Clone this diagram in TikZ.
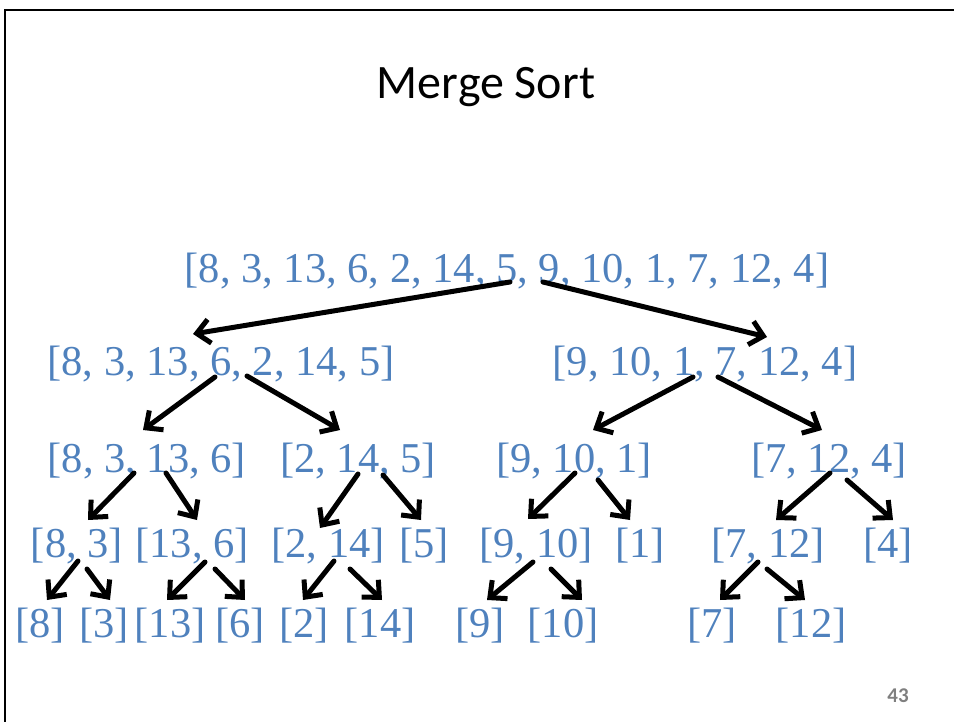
\documentclass[tikz,border=0pt]{standalone}
\usepackage{fontspec}
\setmainfont{Liberation Serif}
\newfontfamily\calibri{Carlito}
\usetikzlibrary{arrows.meta,calc}
\definecolor{listblue}{HTML}{4F81BD}
\definecolor{pagegray}{HTML}{7F7F7F}
\begin{document}
\begin{tikzpicture}[x=1pt, y=-1pt,
    lst/.style={text=listblue, anchor=base, inner sep=0pt, font=\fontsize{42.5}{50}\selectfont},
    split/.style={-{Straight Barb[length=13pt,width=24pt]}, line width=5pt, line cap=round, line join=round}]
\useasboundingbox (0,0) rectangle (954,722);
% frame and title
\draw[line width=2pt] (5,722) -- (5,10) -- (954,10);
\node[anchor=base, inner sep=0pt, font=\calibri\fontsize{48}{56}\selectfont] (title) at (486,99) {Merge Sort};
\node[anchor=base, inner sep=0pt, text=pagegray, font=\calibri\bfseries\fontsize{21}{24}\selectfont] (page) at (898,702) {43};
% nodes
\node[lst] (n0)     at (507,283) {[8, 3, 13, 6, 2, 14, 5, 9, 10, 1, 7, 12, 4]};
    \node[lst] (a)  at (221,375) {[8, 3, 13, 6, 2, 14, 5]};
    \node[lst] (b)  at (705,375) {[9, 10, 1, 7, 12, 4]};
        \node[lst] (aa) at (147,472) {[8, 3, 13, 6]};
        \node[lst] (ab) at (358,472) {[2, 14, 5]};
        \node[lst] (ba) at (574,472) {[9, 10, 1]};
        \node[lst] (bb) at (829,472) {[7, 12, 4]};
            \node[lst] (aaa) at (77,557)  {[8, 3]};
            \node[lst] (aab) at (192,557) {[13, 6]};
            \node[lst] (aba) at (328,557) {[2, 14]};
            \node[lst] (abb) at (424,557) {[5]};
            \node[lst] (baa) at (536,557) {[9, 10]};
            \node[lst] (bab) at (640,557) {[1]};
            \node[lst] (bba) at (768,557) {[7, 12]};
            \node[lst] (bbb) at (888,557) {[4]};
                \node[lst] (l8)  at (40,637)  {[8]};
                \node[lst] (l3)  at (104,637) {[3]};
                \node[lst] (l13) at (170,637) {[13]};
                \node[lst] (l6)  at (240,637) {[6]};
                \node[lst] (l2)  at (304,637) {[2]};
                \node[lst] (l14) at (380,637) {[14]};
                \node[lst] (l9)  at (480,637) {[9]};
                \node[lst] (l10) at (563,637) {[10]};
                \node[lst] (l7)  at (712,637) {[7]};
                \node[lst] (l12) at (811,637) {[12]};
% arrows
\draw[split] ($(n0.base)+(3,-1)$) -- ($(a.base)+(-28,-41)$);
\draw[split] ($(n0.base)+(36,-1)$) -- ($(b.base)+(62,-38)$);

    \draw[split] ($(a.base)+(-6,2)$) -- ($(aa.base)+(-4,-42)$);
    \draw[split] ($(a.base)+(26,1)$) -- ($(ab.base)+(-18,-42)$);
    \draw[split] ($(b.base)+(-12,2)$) -- ($(ba.base)+(19,-42)$);
    \draw[split] ($(b.base)+(13,2)$) -- ($(bb.base)+(-7,-42)$);

        \draw[split] ($(aa.base)+(-13,1)$) -- ($(aaa.base)+(11,-37)$);
        \draw[split] ($(aa.base)+(19,1)$) -- ($(aab.base)+(5,-37)$);
        \draw[split] ($(ab.base)+(0,2)$) -- ($(aba.base)+(-8,-29)$);
        \draw[split] ($(ab.base)+(25,3)$) -- ($(abb.base)+(-3,-37)$);
        \draw[split] ($(ba.base)+(1,1)$) -- ($(baa.base)+(-8,-38)$);
        \draw[split] ($(ba.base)+(24,8)$) -- ($(bab.base)+(-10,-37)$);
        \draw[split] ($(bb.base)+(1,1)$) -- ($(bba.base)+(8,-37)$);
        \draw[split] ($(bb.base)+(18,8)$) -- ($(bbb.base)+(5,-37)$);

            \draw[split] ($(aaa.base)+(1,4)$) -- ($(l8.base)+(7,-37)$);
            \draw[split] ($(aaa.base)+(10,12)$) -- ($(l3.base)+(6,-37)$);
            \draw[split] ($(aab.base)+(13,5)$) -- ($(l13.base)+(-3,-37)$);
            \draw[split] ($(aab.base)+(23,12)$) -- ($(l6.base)+(5,-37)$);
            \draw[split] ($(aba.base)+(6,4)$) -- ($(l2.base)+(-1,-37)$);
            \draw[split] ($(aba.base)+(22,12)$) -- ($(l14.base)+(2,-37)$);
            \draw[split] ($(baa.base)+(-3,5)$) -- ($(l9.base)+(7,-37)$);
            \draw[split] ($(baa.base)+(15,12)$) -- ($(l10.base)+(19,-37)$);
            \draw[split] ($(bba.base)+(-10,5)$) -- ($(l7.base)+(8,-37)$);
            \draw[split] ($(bba.base)+(-1,12)$) -- ($(l12.base)+(-6,-37)$);
\end{tikzpicture}
\end{document}
